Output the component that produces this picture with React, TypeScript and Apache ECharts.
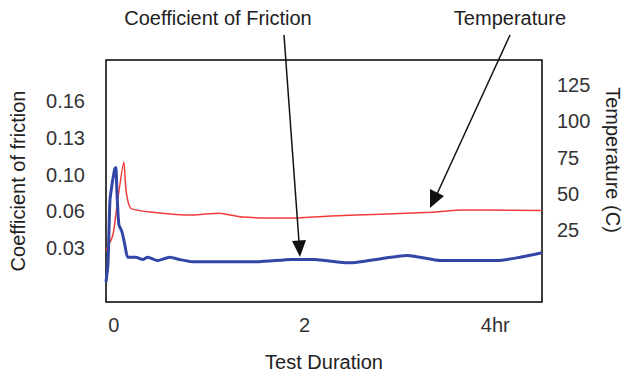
import React, { useEffect, useRef } from "react";
import * as echarts from "echarts";

// Coefficient of friction series (hours, value)
const cofHours = [-0.083, -0.0625, -0.042, -0.021, 0.01, 0.021, 0.031, 0.052, 0.083, 0.115, 0.146, 0.229, 0.302, 0.354, 0.458, 0.583, 0.6875, 0.823, 1.167, 1.52, 1.865, 2.1, 2.46, 3.08, 3.43, 4.02, 4.26, 4.49];
const cofValues = [0.002, 0.0176, 0.074, 0.088, 0.103, 0.1037, 0.083, 0.053, 0.047, 0.035, 0.024, 0.024, 0.022, 0.024, 0.021, 0.024, 0.022, 0.02, 0.02, 0.02, 0.022, 0.022, 0.019, 0.0255, 0.021, 0.021, 0.024, 0.028];

// Temperature series (hours, °C)
const tempHours = [-0.083, -0.01, 0.042, 0.104, 0.128, 0.177, 0.406, 0.823, 1.104, 1.344, 1.865, 2.281, 2.802, 3.323, 3.667, 3.917, 4.49];
const tempValues = [10.9, 21.8, 47, 72, 51.7, 40.1, 37.4, 35.4, 36.7, 34, 33.3, 34.7, 36, 37.4, 38.8, 38.8, 38.6];

// Tick labels
const xTickValues = [0, 2, 4];
const xTickLabels = ["0", "2", "4hr"];
const cofTickValues = [0.0325, 0.065, 0.0975, 0.13, 0.1625];
const cofTickLabels = ["0.03", "0.06", "0.10", "0.13", "0.16"];
const tempTickValues = [25, 50, 75, 100, 125];
const tempTickLabels = ["25", "50", "75", "100", "125"];

const FONT = "'Liberation Sans', Arial, sans-serif";
const FS = 20;

export default function App() {
  const ref = useRef<HTMLDivElement>(null);
  useEffect(() => {
    document.body.style.margin = "0";
    const chart = echarts.init(ref.current!, undefined, { renderer: "svg" });
    const cofData = cofHours.map((h, i) => [h, cofValues[i]]);
    const tempData = tempHours.map((h, i) => [h, tempValues[i]]);
    chart.setOption({
      animation: false,
      backgroundColor: "#fff",
      textStyle: { fontFamily: FONT },
      grid: {
        left: 103,
        right: 84,
        top: 60,
        bottom: 72,
        show: true,
        borderColor: "#000",
        borderWidth: 1.5,
        backgroundColor: "#fff",
      },
      xAxis: {
        type: "value",
        min: -0.083,
        max: 4.49,
        axisLine: { show: false },
        axisTick: { show: false },
        splitLine: { show: false },
        axisLabel: {
          customValues: xTickValues,
          formatter: (v: number) => xTickLabels[xTickValues.indexOf(Math.round(v))] ?? "",
          fontSize: FS,
          color: "#333",
          margin: 13,
          fontFamily: FONT,
        },
        name: "Test Duration",
        nameLocation: "middle",
        nameGap: 50,
        nameTextStyle: { fontSize: FS, color: "#222", fontFamily: FONT },
      },
      yAxis: [
        {
          type: "value",
          position: "left",
          min: -0.0158,
          max: 0.1994,
          axisLine: { show: false },
          axisTick: { show: false },
          splitLine: { show: false },
          axisLabel: {
            customValues: cofTickValues,
            formatter: (v: number) => {
              let best = 0;
              cofTickValues.forEach((t, i) => {
                if (Math.abs(t - v) < Math.abs(cofTickValues[best] - v)) best = i;
              });
              return cofTickLabels[best];
            },
            fontSize: FS,
            color: "#333",
            margin: 21,
            fontFamily: FONT,
          },
          name: "Coefficient of friction",
          nameLocation: "middle",
          nameGap: 78,
          nameRotate: 90,
          nameTextStyle: { fontSize: FS, color: "#222", fontFamily: FONT },
        },
        {
          type: "value",
          position: "right",
          min: -24.5,
          max: 142.2,
          axisLine: { show: false },
          axisTick: { show: false },
          splitLine: { show: false },
          axisLabel: {
            customValues: tempTickValues,
            formatter: (v: number) => tempTickLabels[tempTickValues.indexOf(Math.round(v))] ?? "",
            fontSize: FS,
            color: "#333",
            margin: 15,
            fontFamily: FONT,
          },
        },
      ],
      series: [
        {
          name: "Temperature",
          type: "line",
          yAxisIndex: 1,
          data: tempData,
          showSymbol: false,
          smooth: 0.2,
          lineStyle: { color: "#f23a3a", width: 1.5 },
          z: 2,
        },
        {
          name: "Coefficient of Friction",
          type: "line",
          yAxisIndex: 0,
          data: cofData,
          showSymbol: false,
          smooth: 0.2,
          lineStyle: { color: "#3346a8", width: 3 },
          z: 3,
        },
      ],
      graphic: [
        {
          type: "text",
          style: {
            x: 218,
            y: 18,
            text: "Coefficient of Friction",
            align: "center",
            verticalAlign: "middle",
            font: `${FS}px ${FONT}`,
            fill: "#222",
          },
          z: 10,
        },
        {
          type: "text",
          style: {
            x: 510,
            y: 18,
            text: "Temperature",
            align: "center",
            verticalAlign: "middle",
            font: `${FS}px ${FONT}`,
            fill: "#222",
          },
          z: 10,
        },
        {
          type: "text",
          x: 613,
          y: 160,
          rotation: -Math.PI / 2,
          style: {
            x: 0,
            y: 0,
            text: "Temperature (C)",
            align: "center",
            verticalAlign: "middle",
            font: `${FS}px ${FONT}`,
            fill: "#222",
          },
          z: 10,
        },
        {
          type: "line",
          shape: { x1: 284, y1: 35, x2: 299, y2: 242 },
          style: { stroke: "#111", lineWidth: 1.5 },
          z: 10,
        },
        {
          type: "polygon",
          shape: { points: [[300, 257], [306, 240], [292, 241]] },
          style: { fill: "#111" },
          z: 10,
        },
        {
          type: "line",
          shape: { x1: 510, y1: 35, x2: 437, y2: 194 },
          style: { stroke: "#111", lineWidth: 1.5 },
          z: 10,
        },
        {
          type: "polygon",
          shape: { points: [[430, 208], [444, 196], [430, 189]] },
          style: { fill: "#111" },
          z: 10,
        },
      ],
    });
    return () => chart.dispose();
  }, []);
  return <div ref={ref} style={{ width: 626, height: 377 }} />;
}
